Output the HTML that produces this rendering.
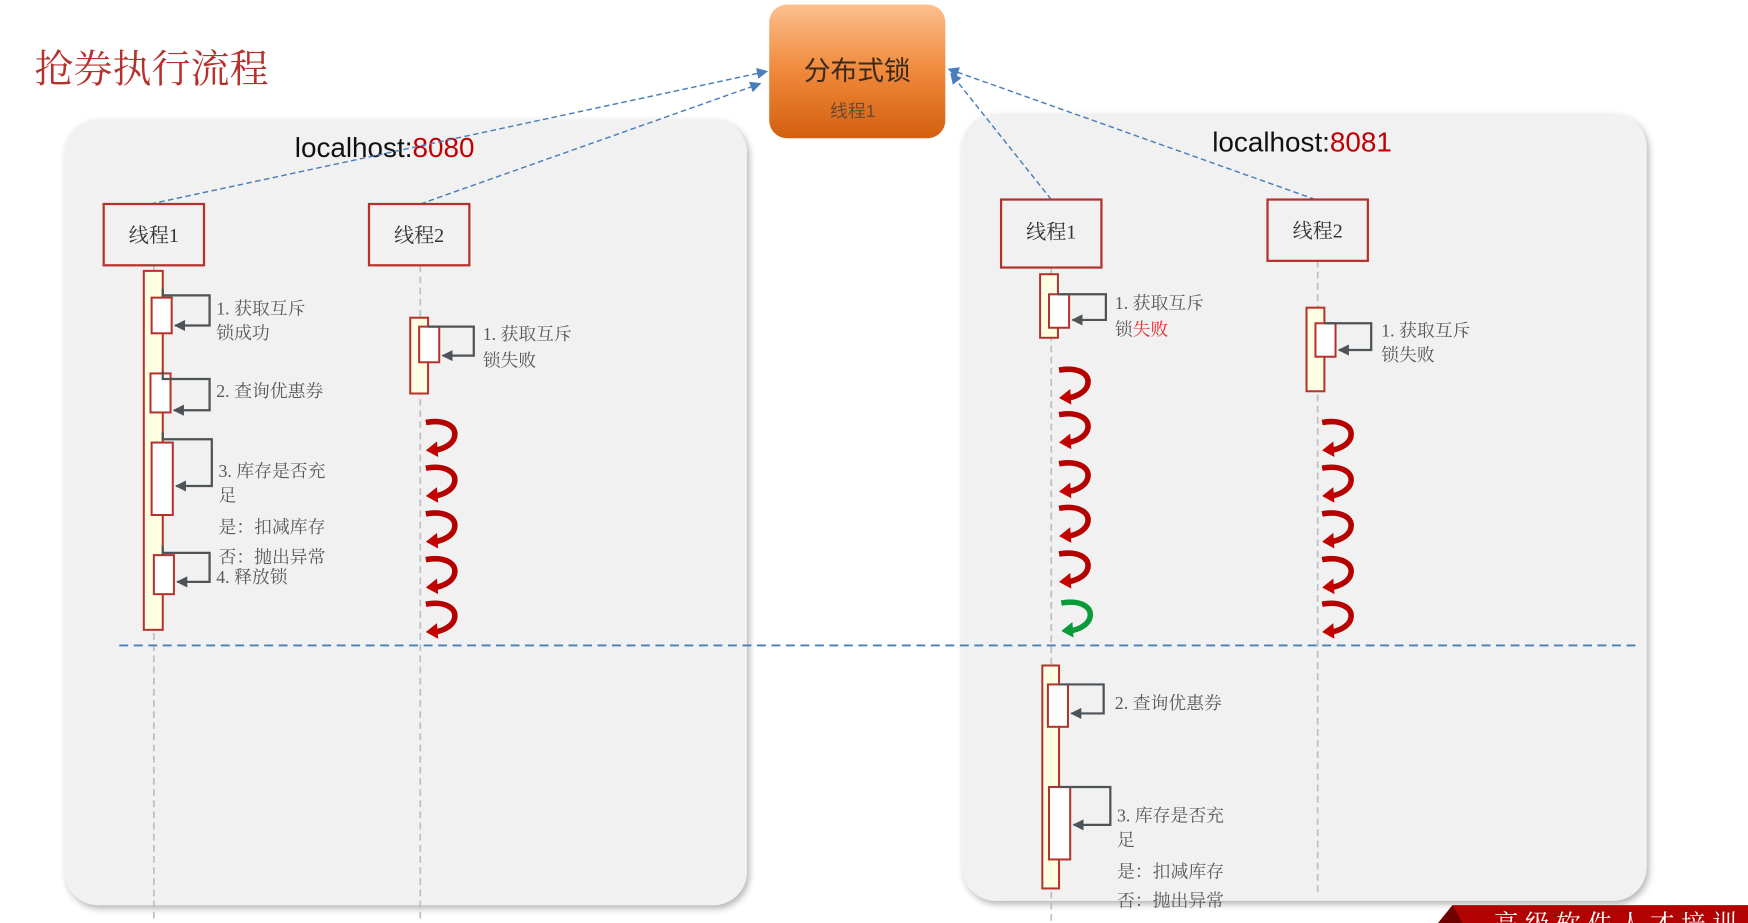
<!DOCTYPE html>
<html><head><meta charset="utf-8"><style>
html,body{margin:0;padding:0;background:#fff;width:1748px;height:923px;overflow:hidden}
svg{display:block}
.l{font-family:"Liberation Serif","Noto Serif CJK SC",serif;font-size:16px;fill:#595959}
.b{font-family:"Liberation Serif","Noto Serif CJK SC",serif;font-size:18px;fill:#333}
</style></head><body>
<svg width="1748" height="923" viewBox="0 0 1568 828" preserveAspectRatio="none" xmlns="http://www.w3.org/2000/svg">
<defs>
<linearGradient id="og" x1="0" y1="0" x2="0" y2="1"><stop offset="0" stop-color="#fbc08f"/><stop offset="0.5" stop-color="#f0883a"/><stop offset="1" stop-color="#d2600f"/></linearGradient>
<filter id="sh" x="-5%" y="-5%" width="110%" height="110%"><feDropShadow dx="2" dy="3" stdDeviation="3" flood-color="#000" flood-opacity="0.3"/></filter>
<marker id="ba" markerWidth="10" markerHeight="10" refX="9" refY="5" orient="auto" markerUnits="userSpaceOnUse"><path d="M0,0 L10,5 L0,10 z" fill="#4a7ebb"/></marker>
<marker id="ga" markerWidth="10" markerHeight="10" refX="9" refY="5" orient="auto" markerUnits="userSpaceOnUse"><path d="M0,0 L10,5 L0,10 z" fill="#4d5356"/></marker>
<g id="cr"><path d="M0,3 C16,0 30,6 25,18 C22,24 14,27 8,28" fill="none" stroke="#b50000" stroke-width="5"/><path d="M10,20 L0,28 L11,34 z" fill="#c40000"/></g>
<g id="cg"><path d="M0,3 C16,0 30,6 25,18 C22,24 14,27 8,28" fill="none" stroke="#0a9a3a" stroke-width="5"/><path d="M10,20 L0,28 L11,34 z" fill="#0a9a3a"/></g>
</defs>
<text x="31" y="74" font-family="Liberation Serif,Noto Serif CJK SC,serif" font-size="35" fill="#b5312c">抢券执行流程</text>
<rect x="58" y="107" width="612" height="705" rx="30" fill="#f1f1f1" filter="url(#sh)"/>
<rect x="863" y="102" width="614" height="706" rx="30" fill="#f1f1f1" filter="url(#sh)"/>
<!-- banner -->
<polygon points="1290,828 1303,812 1568,812 1568,828" fill="#b30000"/>
<polygon points="1290,828 1303,812 1312,828" fill="#6e0000"/>
<text x="1340" y="836" font-family="Liberation Serif,Noto Serif CJK SC,serif" font-size="22" fill="#fff" letter-spacing="6">高级软件人才培训</text>
<!-- lock -->
<rect x="690" y="4" width="158" height="120" rx="16" fill="url(#og)"/>
<text x="769" y="72" text-anchor="middle" font-family="Liberation Sans,Noto Sans CJK SC,sans-serif" font-size="24" fill="#3a2a1a">分布式锁</text>
<text x="765" y="105" text-anchor="middle" font-family="Liberation Sans,Noto Sans CJK SC,sans-serif" font-size="16" fill="#6b4a30">线程1</text>
<text x="345" y="141" text-anchor="middle" font-family="Liberation Sans,sans-serif" font-size="25" fill="#111">localhost:<tspan fill="#c00000">8080</tspan></text>
<text x="1168" y="136" text-anchor="middle" font-family="Liberation Sans,sans-serif" font-size="25" fill="#111">localhost:<tspan fill="#c00000">8081</tspan></text>
<!-- connectors -->
<g stroke="#4a7ebb" stroke-width="1.3" stroke-dasharray="5,3" fill="none">
<line x1="135" y1="183" x2="688" y2="64" marker-end="url(#ba)"/>
<line x1="377" y1="183" x2="682" y2="75" marker-end="url(#ba)"/>
<line x1="943" y1="179" x2="853" y2="66" marker-end="url(#ba)"/>
<line x1="1180" y1="179" x2="851" y2="62" marker-end="url(#ba)"/>
</g>
<!-- lifelines -->
<g stroke="#bdbdbd" stroke-width="1.5" stroke-dasharray="6,4">
<line x1="138" y1="238" x2="138" y2="828"/><line x1="377" y1="238" x2="377" y2="828"/>
<line x1="943" y1="240" x2="943" y2="828"/><line x1="1182" y1="234" x2="1182" y2="802"/>
</g>
<g fill="#f1f1f1" stroke="#b5312c" stroke-width="2">
<rect x="93" y="183" width="90" height="55"/><rect x="331" y="183" width="90" height="55"/>
<rect x="898" y="179" width="90" height="61"/><rect x="1137" y="179" width="90" height="55"/>
</g>
<text class="b" x="138" y="217" text-anchor="middle">线程1</text>
<text class="b" x="376" y="217" text-anchor="middle">线程2</text>
<text class="b" x="943" y="214" text-anchor="middle">线程1</text>
<text class="b" x="1182" y="213" text-anchor="middle">线程2</text>
<line x1="107" y1="579" x2="1470" y2="579" stroke="#4a7ebb" stroke-width="1.6" stroke-dasharray="8,5"/>
<!-- activation bars -->
<g fill="#ffffe3" stroke="#b5312c" stroke-width="1.8">
<rect x="129" y="243" width="17" height="322"/><rect x="368" y="285" width="16" height="68"/>
<rect x="933" y="246" width="16" height="57"/><rect x="1172" y="276" width="16" height="75"/>
<rect x="935" y="597" width="15" height="200"/>
</g>
<g fill="#fff" stroke="#b5312c" stroke-width="1.8">
<rect x="136" y="267" width="18" height="32"/><rect x="135" y="335" width="18" height="35"/>
<rect x="136" y="397" width="19" height="65"/><rect x="138" y="498" width="18" height="35"/>
<rect x="376" y="293" width="18" height="32"/><rect x="941" y="264" width="18" height="30"/>
<rect x="1180" y="290" width="18" height="30"/>
<rect x="940" y="614" width="18" height="38"/><rect x="941" y="706" width="19" height="65"/>
</g>
<g fill="none" stroke="#4d5356" stroke-width="2" marker-end="url(#ga)">
<polyline points="146,259 146,265 188,265 188,292 157,292"/>
<polyline points="146,333 146,340 188,340 188,368 156,368"/>
<polyline points="146,388 146,394 190,394 190,436 158,436"/>
<polyline points="146,490 146,496 188,496 188,522 159,522"/>
<polyline points="384,293 425,293 425,319 397,319"/>
<polyline points="949,264 992,264 992,287 962,287"/>
<polyline points="1188,290 1230,290 1230,314 1201,314"/>
<polyline points="950,614 990,614 990,640 961,640"/>
<polyline points="950,706 996,706 996,740 963,740"/>
</g>
<!-- labels -->
<text class="l" x="194" y="282">1. 获取互斥</text><text class="l" x="194" y="304">锁成功</text>
<text class="l" x="194" y="356">2. 查询优惠券</text>
<text class="l" x="196" y="428">3. 库存是否充</text><text class="l" x="196" y="450">足</text>
<text class="l" x="196" y="478">是：扣减库存</text><text class="l" x="196" y="505">否：抛出异常</text>
<text class="l" x="194" y="523">4. 释放锁</text>
<text class="l" x="433" y="305">1. 获取互斥</text><text class="l" x="433" y="329">锁失败</text>
<text class="l" x="1000" y="277">1. 获取互斥</text><text class="l" x="1000" y="301">锁<tspan fill="#e03030">失败</tspan></text>
<text class="l" x="1239" y="302">1. 获取互斥</text><text class="l" x="1239" y="324">锁失败</text>
<text class="l" x="1000" y="636">2. 查询优惠券</text>
<text class="l" x="1002" y="737">3. 库存是否充</text><text class="l" x="1002" y="759">足</text>
<text class="l" x="1002" y="787">是：扣减库存</text><text class="l" x="1002" y="813">否：抛出异常</text>
<!-- curly arrows -->
<use href="#cr" x="382" y="376"/><use href="#cr" x="382" y="417"/><use href="#cr" x="382" y="458"/><use href="#cr" x="382" y="499"/><use href="#cr" x="382" y="539"/>
<use href="#cr" x="950" y="329"/><use href="#cr" x="950" y="369"/><use href="#cr" x="950" y="413"/><use href="#cr" x="950" y="453"/><use href="#cr" x="950" y="494"/>
<use href="#cg" x="952" y="538"/>
<use href="#cr" x="1186" y="376"/><use href="#cr" x="1186" y="417"/><use href="#cr" x="1186" y="458"/><use href="#cr" x="1186" y="499"/><use href="#cr" x="1186" y="539"/>
</svg>
</body></html>
